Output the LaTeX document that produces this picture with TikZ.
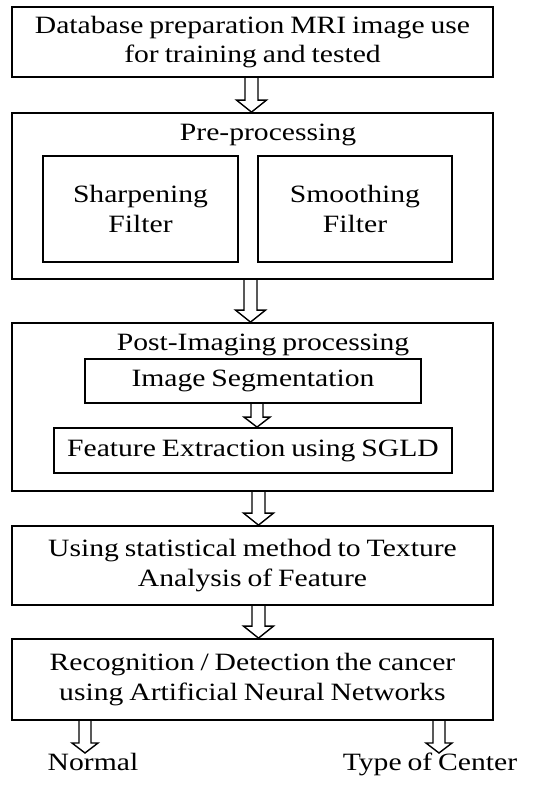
\documentclass[tikz,border=0pt]{standalone}
\usepackage{fontspec}
\setmainfont{Liberation Serif}[FakeStretch=1.19, WordSpace=0.8]
\usetikzlibrary{calc}
\begin{document}
\begin{tikzpicture}[x=1bp,y=-1bp,
  box/.style={draw, line width=1.8bp, inner sep=0pt, align=center, font=\fontsize{25}{30}\selectfont},
  ttl/.style={inner sep=0pt, font=\fontsize{25}{30}\selectfont},
  lbl/.style={inner xsep=0pt, inner ysep=0pt, text height=17bp, text depth=5bp, font=\fontsize{25}{30}\selectfont},
  hollow/.style={line width=1.4bp, line join=miter, to path={
    let \p1=(\tikztostart), \p2=(\tikztotarget) in
    (\x1-6.5bp,\y1) -- (\x1-6.5bp,\y2+12bp) -- (\x1-15bp,\y2+12bp) -- (\x1,\y2)
    -- (\x1+15bp,\y2+12bp) -- (\x1+6.5bp,\y2+12bp) -- (\x1+6.5bp,\y1)}},
  hollowsm/.style={line width=1.4bp, line join=miter, to path={
    let \p1=(\tikztostart), \p2=(\tikztotarget) in
    (\x1-6bp,\y1) -- (\x1-6bp,\y2+10bp) -- (\x1-13bp,\y2+10bp) -- (\x1,\y2)
    -- (\x1+13bp,\y2+10bp) -- (\x1+6bp,\y2+10bp) -- (\x1+6bp,\y1)}}
]
\useasboundingbox (0,0) rectangle (533,788);
\node[box, minimum width=481bp, minimum height=70bp] (db) at (252.5,42) {Database preparation MRI image use\\for training and tested};
\node[box, minimum width=481bp, minimum height=166bp] (pre) at (252.5,196) {};
\node[ttl] (pret) at (268,135) {Pre-processing};
\node[box, minimum width=195bp, minimum height=106bp] (sharp) at (140.5,209) {Sharpening\\Filter};
\node[box, minimum width=194bp, minimum height=106bp] (smooth) at (355,209) {Smoothing\\Filter};
\node[box, minimum width=481bp, minimum height=168bp] (post) at (252.5,407) {};
\node[ttl] (postt) at (263,345) {Post-Imaging processing};
\node[box, minimum width=336bp, minimum height=44bp] (seg) at (253,381) {Image Segmentation};
\node[box, minimum width=398bp, minimum height=45bp] (feat) at (253,450.5) {Feature Extraction using SGLD};
\node[box, minimum width=481bp, minimum height=79bp] (tex) at (252.5,565.5) {Using statistical method to Texture\\Analysis of Feature};
\node[box, minimum width=481bp, minimum height=81bp] (rec) at (252.5,679.5) {Recognition / Detection the cancer\\using Artificial Neural Networks};
\node[lbl, anchor=north] (normal) at (93,753) {Normal};
\node[lbl, anchor=north] (type) at (430,753) {Type of Center};
\draw[hollow] ([xshift=-1bp]db.south) to ([xshift=-1bp]pre.north);
\draw[hollow] ([xshift=-2bp]pre.south) to ([xshift=-2bp]post.north);
\draw[hollowsm] ([xshift=4bp]seg.south) to ([xshift=4bp]feat.north);
\draw[hollow] ([xshift=6bp]post.south) to ([xshift=6bp]tex.north);
\draw[hollow] ([xshift=6bp]tex.south) to ([xshift=6bp]rec.north);
\draw[hollowsm] ([xshift=-8bp]rec.south -| normal.north) to (normal.north);
\draw[hollowsm] ([xshift=9bp]rec.south -| type.north) to (type.north);
\end{tikzpicture}
\end{document}
